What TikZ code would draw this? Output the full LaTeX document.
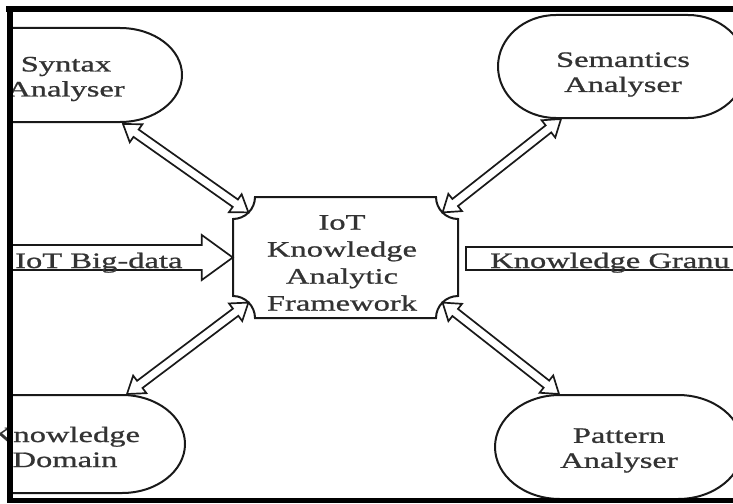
\documentclass[tikz,border=0pt]{standalone}
\usepackage{fontspec}
\setmainfont{Liberation Serif}[FakeStretch=1.48,FakeBold=0.9]
\usetikzlibrary{calc}
\tikzset{
  outl/.style={draw=black!90, line width=2pt},
  blk/.style={draw=black!90, line width=1.7pt, fill=white, line join=miter},
  lbl/.style={font=\fontsize{22}{25}\selectfont, align=center, inner sep=0pt, text=black!80},
  corelbl/.style={lbl, font=\fontsize{22}{27}\selectfont},
  framebar/.style={fill=black},
}
\newcommand\dblarrow[2]{%
  \draw[blk] (#1)
    -- ($(#1)!16pt!(#2)!11pt!90:(#2)$)
    -- ($(#1)!16pt!(#2)!4.5pt!90:(#2)$)
    -- ($(#2)!16pt!(#1)!4.5pt!-90:(#1)$)
    -- ($(#2)!16pt!(#1)!11pt!-90:(#1)$)
    -- (#2)
    -- ($(#2)!16pt!(#1)!11pt!90:(#1)$)
    -- ($(#2)!16pt!(#1)!4.5pt!90:(#1)$)
    -- ($(#1)!16pt!(#2)!4.5pt!-90:(#2)$)
    -- ($(#1)!16pt!(#2)!11pt!-90:(#2)$)
    -- cycle;}
\begin{document}
\begin{tikzpicture}[x=1pt,y=-1pt]
\useasboundingbox (0,0) rectangle (733,503);
\clip (0,0) rectangle (733,503);
\fill[white] (0,0) rectangle (733,503);

% ---- analyser shapes (stadium outlines) ----
\draw[outl] (10,28) -- (120,28) arc[start angle=-90,end angle=90,x radius=62,y radius=47] -- (10,122);
\draw[outl] (556,15) -- (688,15) arc[start angle=-90,end angle=90,x radius=58,y radius=51.5]
  -- (556,118) arc[start angle=90,end angle=270,x radius=58,y radius=51.5] -- cycle;
\draw[outl] (10,395) -- (122,395) arc[start angle=-90,end angle=90,x radius=63,y radius=49] -- (10,493);
\draw[outl] (560,395) -- (678,395) arc[start angle=-90,end angle=90,x radius=65,y radius=52]
  -- (560,499) arc[start angle=90,end angle=270,x radius=65,y radius=52] -- cycle;

\node[lbl] (syn) at (66,79) {Syntax\\Analyser};
\node[lbl] (sem) at (623,74.5) {Semantics\\Analyser};
\node[lbl] (dom) at (65,447) {Knowledge\\Domain};
\node[lbl] (pat) at (619,450.5) {Pattern\\Analyser};

% ---- central framework box ----
\node[minimum width=225pt, minimum height=121pt, inner sep=0pt] (box) at (345.5,257.5) {};
\draw[outl] (255,197) -- (436,197) .. controls (436,209.1) and (445.9,219) .. (458,219)
  -- (458,296) .. controls (445.9,296) and (436,305.9) .. (436,318)
  -- (255,318) .. controls (255,305.9) and (245.1,296) .. (233,296)
  -- (233,219) .. controls (245.1,219) and (255,209.1) .. (255,197) -- cycle;
\node[corelbl] (core) at (342,263) {IoT\\Knowledge\\Analytic\\Framework};

% ---- arrow end points ----
\coordinate (ctl) at ($(box.north west)+(15.6,15.6)$);
\coordinate (ctr) at ($(box.north east)+(-15.6,15.6)$);
\coordinate (cbl) at ($(box.south west)+(15.6,-15.6)$);
\coordinate (cbr) at ($(box.south east)+(-15.6,-15.6)$);
\coordinate (syntip) at (123,124);
\coordinate (semtip) at (561,119);
\coordinate (domtip) at (127,394);
\coordinate (pattip) at (559,394);

\dblarrow{syntip}{ctl}
\dblarrow{ctr}{semtip}
\dblarrow{cbl}{domtip}
\dblarrow{cbr}{pattip}

% ---- IoT Big-data input arrow ----
\coordinate (bigsrc) at (10,257.5);
\draw[blk] ($(bigsrc)+(0,-12.5)$) -- ($(box.west)+(-31,-12.5)$) -- ($(box.west)+(-31,-22.5)$)
  -- (box.west) -- ($(box.west)+(-31,22.5)$) -- ($(box.west)+(-31,12.5)$) -- ($(bigsrc)+(0,12.5)$);
\node[lbl, anchor=base west] (bigtxt) at (15,268) {IoT Big-data};

% ---- Knowledge granules output ----
\node[draw=black!90, line width=1.7pt, anchor=west, minimum width=320pt, minimum height=23pt, inner sep=0pt] (gran) at (465,258.5) {};
\node[lbl, anchor=base west] (grantxt) at (490,268) {Knowledge Granu};

% ---- black frame ----
\fill[framebar] (6,6) rectangle (733,12);
\fill[framebar] (7,6) rectangle (13,503);
\fill[framebar] (7,498) rectangle (733,503);
\end{tikzpicture}
\end{document}
